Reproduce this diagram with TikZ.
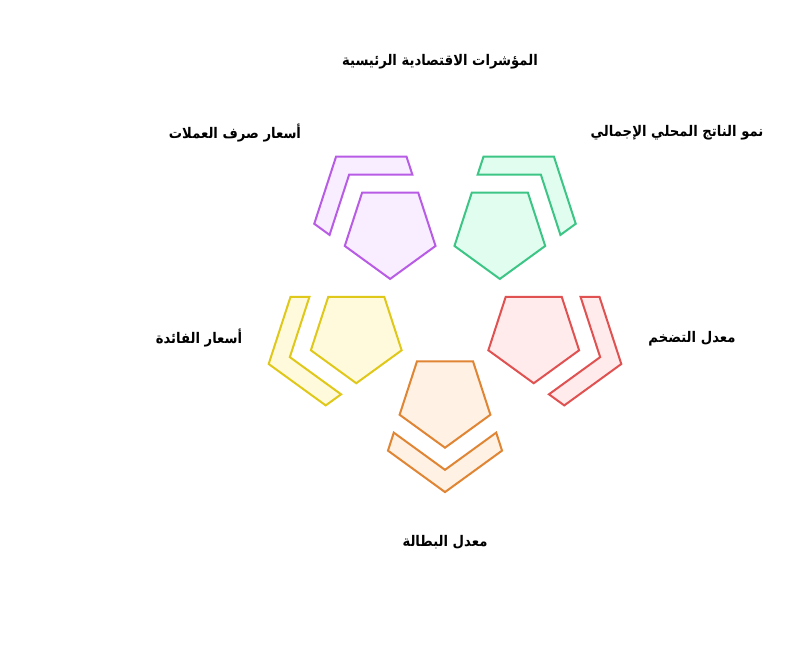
\documentclass[tikz,border=0pt]{standalone}
\usepackage{fontspec}
\TeXXeTstate=1
\newfontfamily\arabicfont[Script=Arabic,FakeStretch=0.9]{DejaVu Sans}
\definecolor{pstroke}{HTML}{B85CE6}
\definecolor{pfill}{HTML}{F9EEFF}
\definecolor{gstroke}{HTML}{3CC585}
\definecolor{gfill}{HTML}{E0FDF0}
\definecolor{rstroke}{HTML}{E05252}
\definecolor{rfill}{HTML}{FFEBEB}
\definecolor{ostroke}{HTML}{E08533}
\definecolor{ofill}{HTML}{FFF1E3}
\definecolor{ystroke}{HTML}{E0C81A}
\definecolor{yfill}{HTML}{FFFADC}
\newcommand\petal[3]{%
  \begin{scope}[shift={(445,306.7)}, shift={(#1:93.3)}]
    \draw[shapeline, draw=#2, fill=#3] (90:47.71) -- (162:47.71) -- (234:47.71) -- (306:47.71) -- (18:47.71) -- cycle;
    \draw[shapeline, draw=#2, fill=#3] (#1:92.09) -- ({#1+48.4}:76.27) -- ({#1+57.5}:60.71) -- (#1:69.84) -- ({#1-57.5}:60.71) -- ({#1-48.4}:76.27) -- cycle;
  \end{scope}}
\begin{document}
\begin{tikzpicture}[x=0.75pt,y=-0.75pt,
  shapeline/.style={line width=1.5pt},
  lbl/.style={font=\arabicfont\bfseries\fontsize{11}{13}\selectfont, inner sep=0pt, anchor=center}]
\useasboundingbox (0,0) rectangle (794,650);
\fill[white] (0,0) rectangle (794,650);
\petal{234}{pstroke}{pfill}
\petal{306}{gstroke}{gfill}
\petal{18}{rstroke}{rfill}
\petal{90}{ostroke}{ofill}
\petal{162}{ystroke}{yfill}
\node[lbl] (title) at (440,62) {\beginR المؤشرات الاقتصادية الرئيسية\endR};
\node[lbl] (fx) at (235,133) {\beginR أسعار صرف العملات\endR};
\node[lbl] (gdp) at (677,133) {\beginR نمو الناتج المحلي الإجمالي\endR};
\node[lbl] (rate) at (199,338) {\beginR أسعار الفائدة\endR};
\node[lbl] (infl) at (692,339) {\beginR معدل التضخم\endR};
\node[lbl] (unemp) at (445,542) {\beginR معدل البطالة\endR};
\end{tikzpicture}
\end{document}
